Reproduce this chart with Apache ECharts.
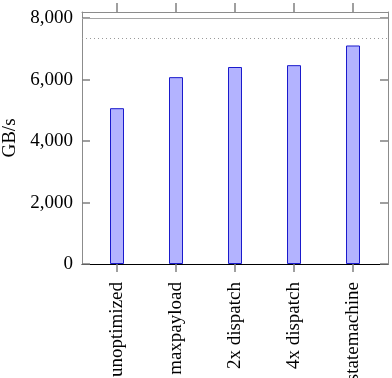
<!DOCTYPE html>
<html>
<head>
<meta charset="utf-8">
<script src="https://cdn.jsdelivr.net/npm/echarts@6/dist/echarts.min.js"></script>
<style>
  html, body { margin: 0; padding: 0; background: #fff; }
  #chart { width: 392px; height: 378px; }
</style>
</head>
<body>
<div id="chart"></div>
<script>
const categories = ['unoptimized', 'maxpayload', '2x dispatch', '4x dispatch', 'statemachine']
const bandwidth = [5070, 6080, 6410, 6470, 7110]
const yTicks = [0, 2000, 4000, 6000, 8000]
const peakLine = 8000
const dottedLine = 7330

const font = '"Liberation Serif", "DejaVu Serif", serif'
const gray = '#8c8c8c'
const tickStyle = { color: '#808080', width: 1.5 }
const yMax = 8200

const chart = echarts.init(document.getElementById('chart'))
chart.setOption({
  animation: false,
  grid: [
    // frame
    { left: 82, right: 4, top: 12, bottom: 114, outerBoundsMode: 'none', containLabel: false },
    // bars (pgfplots keeps a margin on the sides)
    { left: 87.5, right: 9.5, top: 12, bottom: 114, outerBoundsMode: 'none', containLabel: false }
  ],
  xAxis: [
    {
      gridIndex: 0, type: 'value', min: 0, max: 1, position: 'bottom',
      splitLine: { show: false },
      axisLine: { show: true, onZero: false, lineStyle: { color: '#000', width: 1 } },
      axisTick: { show: false },
      axisLabel: { show: false }
    },
    {
      gridIndex: 0, type: 'value', min: 0, max: 1, position: 'top',
      splitLine: { show: false },
      axisLine: { show: true, onZero: false, lineStyle: { color: gray, width: 1 } },
      axisTick: { show: false },
      axisLabel: { show: false }
    },
    {
      gridIndex: 1, type: 'category', data: categories, position: 'bottom',
      axisLine: { show: true, onZero: false, lineStyle: { color: 'rgba(0,0,0,0)' } },
      axisTick: { show: true, interval: 0, alignWithLabel: true, inside: false, length: 8, lineStyle: tickStyle },
      axisLabel: { interval: 0, rotate: 90, margin: 18, fontFamily: font, fontSize: 19, color: '#000' }
    },
    {
      gridIndex: 1, type: 'category', data: categories, position: 'top',
      axisLine: { show: true, onZero: false, lineStyle: { color: 'rgba(0,0,0,0)' } },
      axisTick: { show: true, interval: 0, alignWithLabel: true, inside: false, length: 9, lineStyle: tickStyle },
      axisLabel: { show: false, interval: 0 }
    }
  ],
  yAxis: [
    {
      gridIndex: 0, type: 'value', min: 0, max: yMax, position: 'left',
      name: 'GB/s',
      nameLocation: 'middle',
      nameGap: 62,
      nameTextStyle: { fontFamily: font, fontSize: 19, color: '#000' },
      splitLine: { show: false },
      axisLine: { show: true, onZero: false, lineStyle: { color: gray, width: 1 } },
      axisTick: { show: true, inside: true, length: 8, customValues: yTicks, lineStyle: tickStyle },
      axisLabel: {
        customValues: yTicks,
        margin: 9,
        fontFamily: font,
        fontSize: 19,
        color: '#000',
        formatter: v => v.toLocaleString('en-US')
      }
    },
    {
      gridIndex: 0, type: 'value', min: 0, max: yMax, position: 'right',
      splitLine: { show: false },
      axisLine: { show: true, onZero: false, lineStyle: { color: gray, width: 1 } },
      axisTick: { show: true, inside: true, length: 8, customValues: yTicks, lineStyle: tickStyle },
      axisLabel: { show: false }
    },
    {
      gridIndex: 1, type: 'value', min: 0, max: yMax, show: false
    }
  ],
  series: [
    {
      // reference lines across the full frame
      type: 'line',
      xAxisIndex: 0,
      yAxisIndex: 0,
      data: [],
      markLine: {
        silent: true,
        symbol: 'none',
        label: { show: false },
        data: [
          { yAxis: peakLine, lineStyle: { color: '#a6a6a6', type: 'solid', width: 1 } },
          { yAxis: dottedLine, lineStyle: { color: '#9a9a9a', type: [1, 3], width: 1 } }
        ]
      }
    },
    {
      type: 'bar',
      xAxisIndex: 2,
      yAxisIndex: 2,
      barWidth: 14,
      data: bandwidth,
      itemStyle: { color: '#b3b3ff', borderColor: '#1a1acc', borderWidth: 1 }
    }
  ]
})
window.addEventListener('resize', () => chart.resize())
</script>
</body>
</html>
